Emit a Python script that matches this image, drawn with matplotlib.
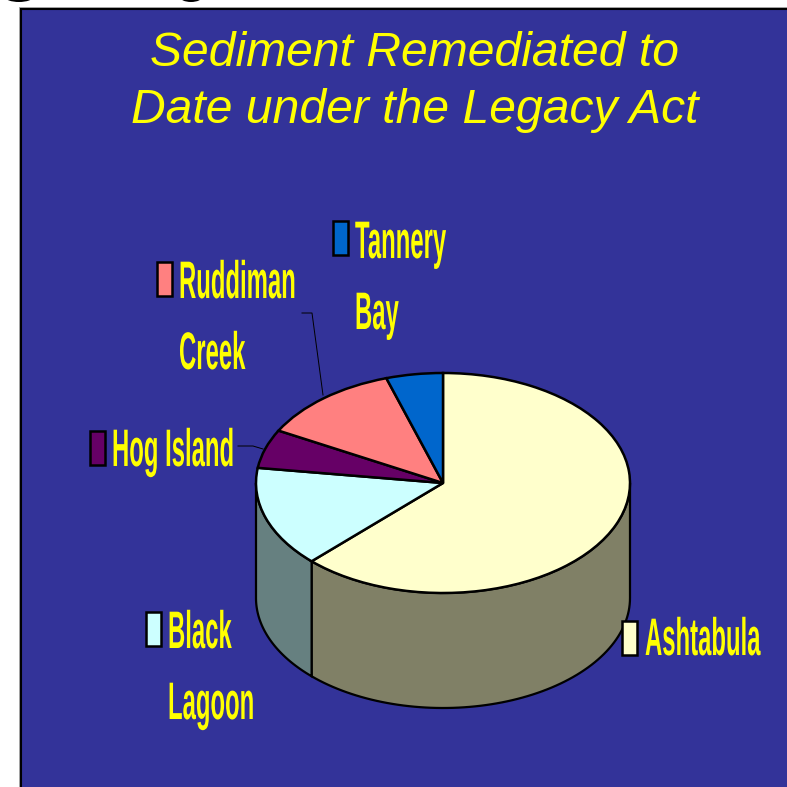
import numpy as np
import matplotlib
matplotlib.use("Agg")
import matplotlib.pyplot as plt
from matplotlib.patches import Rectangle, Polygon, Ellipse
from matplotlib.patheffects import AbstractPathEffect
from matplotlib.transforms import Affine2D

# share of sediment (clockwise from 12 o'clock)
sites = [["Ashtabula"], ["Black", "Lagoon"], ["Hog Island"], ["Ruddiman", "Creek"], ["Tannery", "Bay"]]
shares = [62.4, 14.8, 5.7, 12.2, 4.9]
top_colors = ["#FFFFCC", "#CCFFFF", "#660066", "#FF8080", "#0066CC"]
side_colors = ["#808066", "#668080", "#330033", "#804040", "#003366"]
title_lines = ["Sediment Remediated to", "Date under the Legacy Act"]

W = 787
BLUE = "#333399"
YELLOW = "#FFFF00"

# pixel layout of the pie
left, right, top, bottom, depth = 256, 630, 373, 593, 115
label_x = [645, 168, 112, 179, 355]
label_y = [655, 648, 466, 298, 258]
key_x = [622, 146, 90, 157, 333]
key_y = [621, 612, 431, 262, 221]


class Stretch(AbstractPathEffect):
    # the original labels are very condensed, so stretch a small font upwards
    def __init__(self, sy):
        super().__init__()
        self.sy = sy

    def draw_path(self, renderer, gc, tpath, affine, rgbFace=None):
        m = affine.get_matrix().copy()
        m[1, 0] *= self.sy
        m[1, 1] *= self.sy
        renderer.draw_path(gc, tpath, Affine2D(m), rgbFace)


def wall_piece(axis, a0, a1, color, d):
    # one stretch of the front wall between angles a0 and a1 (degrees)
    t = np.radians(np.linspace(a0, a1, 80))
    xs = np.cos(t)
    ys = np.sin(t)
    pts = np.r_[np.c_[xs, ys], np.c_[xs, ys - d][::-1]]
    axis.add_patch(Polygon(pts, closed=True, fc=color, ec="black", lw=1.6, clip_on=False))


fig = plt.figure(figsize=(W / 100, W / 100), dpi=100, facecolor="white")
ax = fig.add_axes([0, 0, 1, 1])
ax.set_xlim(0, W)
ax.set_ylim(W, 0)
ax.axis("off")

# slide panel
ax.add_patch(Rectangle((19, 7), W, W, fc="#AAAAAA", ec="none"))
ax.add_patch(Rectangle((20.5, 8.5), W, W, fc=BLUE, ec="black", lw=1.5))

# bits of the cut off slide heading above the panel
ax.add_patch(Ellipse((19, -3), 28, 10, fc="black", ec="none"))
ax.add_patch(Ellipse((191, -3), 22, 10, fc="black", ec="none"))

for i, line in enumerate(title_lines):
    ax.text(415, 66 + 57 * i, line, color=YELLOW, fontsize=34.6, style="italic",
            family="Liberation Sans", ha="center", va="baseline")

# pie goes in its own axes so the circle can be flattened
pie_ax = fig.add_axes([left / W, (W - bottom - depth) / W,
                       (right - left) / W, (bottom + depth - top) / W])
pie_ax.patch.set_visible(False)
d = depth / ((bottom - top) / 2)

# side wall, front half only
start = 90.0
for share, col in zip(shares, side_colors):
    a1 = start
    a0 = start - share * 3.6
    start = a0
    if max(a0, -180) < min(a1, 0):
        wall_piece(pie_ax, max(a0, -180), min(a1, 0), col, d)

pie_ax.pie(shares, colors=top_colors, startangle=90, counterclock=False, radius=1,
           wedgeprops={"edgecolor": "black", "linewidth": 1.8, "clip_on": False})
pie_ax.set_aspect("auto")
pie_ax.set_xlim(-1, 1)
pie_ax.set_ylim(-1 - d, 1)

# leader lines and labels on top
ax2 = fig.add_axes([0, 0, 1, 1])
ax2.set_xlim(0, W)
ax2.set_ylim(W, 0)
ax2.axis("off")
ax2.plot([238, 253, 263], [446, 446, 449], color="black", lw=0.7)
ax2.plot([302, 312, 323], [313, 313, 395], color="black", lw=0.7)

for name, lx, ly, kx, ky, col in zip(sites, label_x, label_y, key_x, key_y, top_colors):
    ax2.add_patch(Rectangle((kx, ky), 15, 34, fc=col, ec="black", lw=1.8))
    for i, line in enumerate(name):
        t = ax2.text(lx, ly + 71 * i, line, color=YELLOW, fontsize=17.2, fontweight="bold",
                     family="Liberation Sans", ha="left", va="baseline")
        t.set_path_effects([Stretch(38 / 17.2)])

fig.savefig("out.png", dpi=100, facecolor="white")
